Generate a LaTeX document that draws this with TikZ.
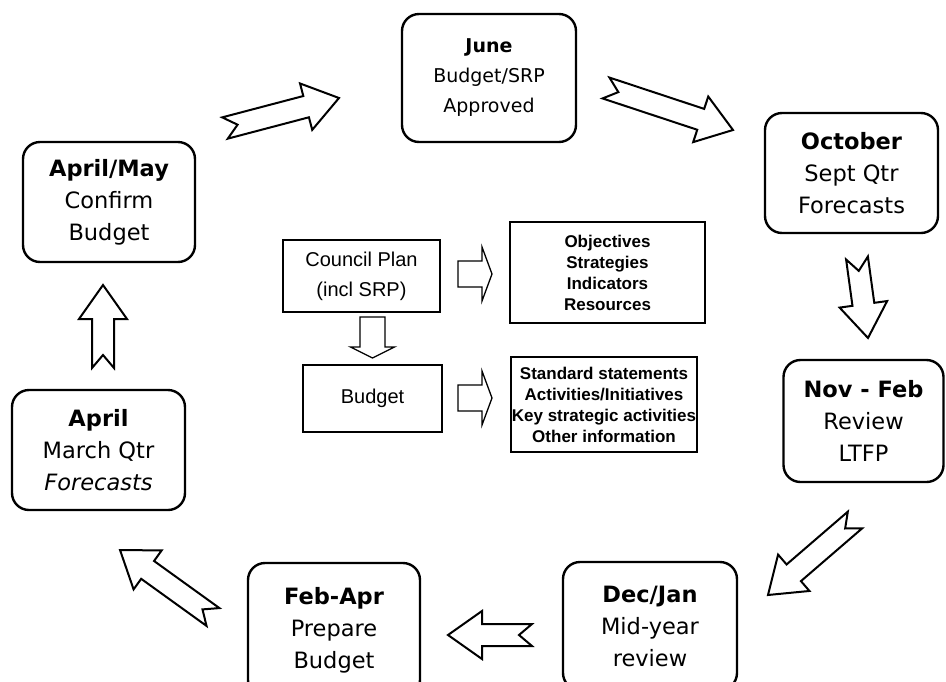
\documentclass[tikz,border=0pt]{standalone}
\usepackage{fontspec}
\setmainfont{DejaVu Sans}
\newfontfamily\arialf{Liberation Sans}
\usetikzlibrary{calc}

\tikzset{
  rbox/.style={draw, line width=2.4pt, rounded corners=17pt, align=center, inner sep=0pt, fill=white},
  sbox/.style={draw, line width=1.3pt, align=center, inner sep=0pt, fill=white},
  cyctext/.style={font=\fontsize{22.5}{32}\selectfont},
  smalltext/.style={font=\fontsize{19}{30}\selectfont},
  plantext/.style={font=\arialf\fontsize{20}{30}\selectfont},
  listtext/.style={font=\arialf\bfseries\fontsize{17}{21}\selectfont},
  cycarrowstyle/.style={draw, line width=2pt, fill=white, line join=miter},
  flatarrowstyle/.style={draw, line width=1.3pt, fill=white, line join=miter},
}

% #1 shaft half width, #2 head half width, #3 head length, #4 notch depth,
% #5 style, #6 tail coordinate, #7 tip coordinate
\newcommand\blockarrowgen[7]{%
  \pgfpointdiff{\pgfpointanchor{#6}{center}}{\pgfpointanchor{#7}{center}}%
  \pgfgetlastxy\bax\bay
  \pgfmathsetmacro\baang{atan2(\bay,\bax)}%
  \pgfmathsetmacro\balen{veclen(\bax,\bay)}%
  \begin{scope}[shift={(#6)}, rotate=\baang]
    \draw[#5] (0pt,#1pt) -- ({\balen pt-#3pt},#1pt) -- ({\balen pt-#3pt},#2pt)
      -- ({\balen pt},0pt) -- ({\balen pt-#3pt},-#2pt) -- ({\balen pt-#3pt},-#1pt)
      -- (0pt,-#1pt) -- (#4pt,0pt) -- cycle;
  \end{scope}}
\newcommand\cycarrow[2]{\blockarrowgen{11}{24}{34}{13}{cycarrowstyle}{#1}{#2}}
\newcommand\flatarrow[2]{\blockarrowgen{13}{27}{10}{0}{flatarrowstyle}{#1}{#2}}

\begin{document}
\begin{tikzpicture}[x=1pt,y=-1pt]
\useasboundingbox (0,0) rectangle (946,681);
\fill[white] (0,0) rectangle (946,681);

% cycle boxes
\node[rbox, smalltext, minimum width=174, minimum height=128] (june) at (489,78)
  {\textbf{June}\\Budget/SRP\\Approved};
\node[rbox, cyctext, minimum width=173, minimum height=120] (october) at (851.5,173)
  {\textbf{October}\\Sept Qtr\\Forecasts};
\node[rbox, cyctext, minimum width=160, minimum height=122] (novfeb) at (863.5,421)
  {\textbf{Nov - Feb}\\Review\\LTFP};
\node[rbox, cyctext, minimum width=174, minimum height=128] (decjan) at (650,626)
  {\textbf{Dec/Jan}\\Mid-year\\review};
\node[rbox, cyctext, minimum width=172, minimum height=134] (febapr) at (334,630)
  {\textbf{Feb-Apr}\\Prepare\\Budget};
\node[rbox, cyctext, minimum width=173, minimum height=120] (april) at (98.5,450)
  {\textbf{April}\\March Qtr\\\textit{Forecasts}};
\node[rbox, cyctext, minimum width=172, minimum height=120] (aprilmay) at (109,202)
  {\textbf{April/May}\\Confirm\\Budget};

% centre boxes
\node[sbox, plantext, minimum width=157, minimum height=72] (council) at (361.5,276)
  {Council Plan\\(incl SRP)};
\node[sbox, listtext, minimum width=195, minimum height=101] (objectives) at (607.5,272.5)
  {Objectives\\Strategies\\Indicators\\Resources};
\node[sbox, plantext, minimum width=139, minimum height=67] (budget) at (372.5,398.5)
  {Budget};
\node[sbox, listtext, minimum width=186, minimum height=95] (standard) at (604,404.5)
  {Standard statements\\Activities/Initiatives\\Key strategic activities\\Other information};

% arrow end points
\coordinate (a1t) at (225,128);  \coordinate (a1h) at (339,98);
\coordinate (a2t) at (606,88);   \coordinate (a2h) at (733,130);
\coordinate (a3t) at (857,258);  \coordinate (a3h) at (868,338);
\coordinate (a4t) at (855,520);  \coordinate (a4h) at (768,595);
\coordinate (a5t) at (532,635);  \coordinate (a5h) at (448,635);
\coordinate (a6t) at (213,617);  \coordinate (a6h) at (120,550);
\coordinate (a7t) at (103,368);  \coordinate (a7h) at (103,285);
\coordinate (r1t) at (458,274);  \coordinate (r1h) at (492,274);
\coordinate (r2t) at (458,398);  \coordinate (r2h) at (492,398);
\coordinate (dt) at (372.5,317); \coordinate (dh) at (372.5,358);

\cycarrow{a1t}{a1h}
\cycarrow{a2t}{a2h}
\cycarrow{a3t}{a3h}
\cycarrow{a4t}{a4h}
\cycarrow{a5t}{a5h}
\cycarrow{a6t}{a6h}
\cycarrow{a7t}{a7h}
\flatarrow{r1t}{r1h}
\flatarrow{r2t}{r2h}
\blockarrowgen{12.5}{22}{11}{0}{flatarrowstyle}{dt}{dh}
\end{tikzpicture}
\end{document}
